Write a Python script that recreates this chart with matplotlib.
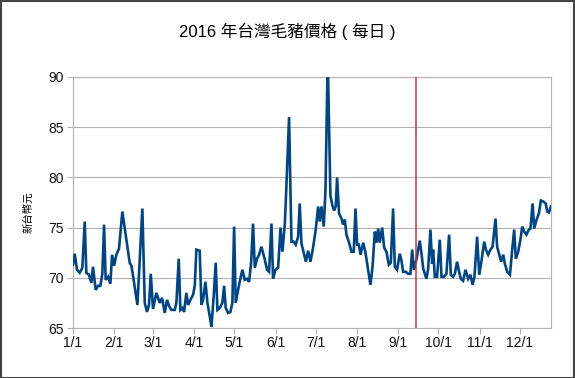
import matplotlib
matplotlib.use("Agg")
import matplotlib.pyplot as plt
import matplotlib.dates as mdates
from matplotlib.patches import Rectangle
from matplotlib.ticker import FuncFormatter
import pandas as pd

plt.rcParams['font.family'] = ['Liberation Sans', 'Noto Sans CJK TC', 'DejaVu Sans']

# days since 2016-01-01 and daily hog price (NT$)
day_offsets = [
    0, 1.3, 3, 5, 7, 8.8, 10, 12, 13.8, 15, 17, 18.8, 20.5, 22, 23.3, 24.5,
    26.3, 28, 29.3, 30.8, 32.5, 34.5, 37, 40, 42.5, 43.8, 45, 48.3, 52, 53.8,
    55.5, 57, 58.3, 60, 62.5, 63.8, 65, 66.8, 68.8, 70.5, 72, 73.8, 76.3,
    77.5, 79.3, 80.5, 82, 83.3, 85, 86.3, 88, 90, 91.3, 92.5, 95, 96.3, 97.5,
    99.3, 100.8, 102.5, 103.8, 105.5, 107, 108.3, 110, 112, 113.3, 114.5,
    116.3, 118, 119.5, 120.8, 122, 123.8, 125, 127, 128.8, 130.5, 132, 133.5,
    135, 136.3, 138, 139.5, 141.3, 143.8, 145.5, 147, 148.8, 150, 151.8,
    153.8, 155.6, 157, 158.8, 160, 162, 163.8, 165.5, 167, 168.8, 170, 171.3,
    173, 174.6, 176.3, 178, 180, 182, 183.8, 185, 186.3, 188, 189.3, 191,
    193, 194.5, 195.8, 197, 198, 199.5, 201.3, 202.5, 203.8, 205, 207, 208.8,
    210.5, 211.8, 213, 214.3, 215.6, 217.6, 219.3, 221.3, 223, 224.6, 226.3,
    227.6, 228.8, 230, 231.8, 233.3, 235, 236.8, 238.3, 240, 241.3, 243, 245,
    246.3, 247.5, 249.5, 251.3, 253, 254.3, 255.6, 257.6, 260, 261.3, 262.6,
    265, 266.3, 268, 269.3, 270, 271.3, 273, 275, 276.3, 278, 280, 282,
    283.3, 285, 286.3, 288, 289.5, 290.8, 292.5, 294.3, 296.3, 298, 299.6,
    301, 303, 304.6, 306.3, 308.3, 309.6, 311.3, 313, 314.6, 316.8, 318,
    319.6, 321, 322.6, 323.8, 325.6, 327.6, 329.3, 330.8, 332, 333.8, 335.6,
    336.8, 338.3, 340, 341.8, 343, 344.6, 345.8, 347.6, 349.3, 350.8, 352.6,
    354.4, 355.6, 356.8, 358.3,
]
prices = [
    71.3, 72.4, 70.8, 70.5, 71.0, 75.6, 70.5, 70.3, 69.5, 71.1, 68.8, 69.2,
    69.2, 70.4, 75.3, 69.8, 70.1, 69.4, 72.3, 71.2, 72.3, 72.9, 76.6, 73.8,
    71.5, 71.2, 70.2, 67.3, 76.9, 67.5, 66.6, 67.3, 70.4, 66.9, 68.5, 68.0,
    67.5, 68.0, 66.5, 67.8, 67.2, 66.8, 66.8, 67.5, 71.9, 66.8, 67.0, 66.6,
    68.5, 67.3, 67.8, 68.3, 69.2, 72.8, 72.7, 67.3, 67.8, 69.6, 67.5, 66.2,
    65.1, 68.2, 71.5, 66.8, 67.0, 67.5, 69.2, 67.0, 66.5, 66.6, 67.5, 75.1,
    67.5, 68.8, 69.6, 70.8, 69.8, 69.9, 69.6, 71.4, 75.4, 71.0, 71.9, 72.3,
    73.1, 71.8, 70.8, 70.6, 75.4, 69.9, 70.8, 71.0, 75.0, 72.6, 75.3, 79.1,
    86.0, 73.6, 73.6, 73.3, 74.1, 77.4, 73.4, 72.5, 71.6, 72.7, 71.6, 73.0,
    74.8, 77.1, 75.6, 77.1, 75.1, 78.7, 92.0, 78.2, 77.2, 76.7, 77.1, 80.0,
    76.4, 75.9, 75.3, 75.8, 74.3, 73.5, 72.6, 72.6, 76.9, 73.3, 73.3, 72.3,
    73.5, 72.5, 70.8, 69.3, 71.1, 74.6, 73.5, 74.9, 73.5, 75.0, 73.0, 72.6,
    71.3, 71.5, 76.9, 71.1, 70.8, 72.4, 71.7, 70.6, 70.6, 70.4, 70.4, 72.8,
    70.8, 71.9, 73.7, 72.4, 70.9, 69.9, 70.9, 74.8, 71.4, 72.8, 70.1, 70.1,
    73.8, 70.1, 70.1, 70.4, 74.3, 70.3, 70.1, 70.4, 71.6, 70.6, 69.9, 69.7,
    70.8, 69.9, 70.3, 69.3, 70.1, 74.1, 70.3, 71.7, 73.6, 72.8, 72.3, 72.8,
    73.1, 75.9, 73.1, 72.3, 71.6, 72.3, 71.4, 70.6, 70.3, 72.8, 74.8, 71.9,
    72.6, 73.9, 75.1, 74.6, 74.3, 74.8, 74.9, 77.4, 74.9, 75.8, 76.4, 77.7,
    77.6, 77.4, 76.6, 76.5, 77.1,
]
marker_date = "2016-09-14"
y_ticks = [65, 70, 75, 80, 85, 90]

start = pd.Timestamp("2016-01-01")
dates = start + pd.to_timedelta(day_offsets, unit="D")

fig = plt.figure(figsize=(5.75, 3.78), dpi=100)
ax = fig.add_axes([73 / 575, 1 - 328 / 378, 478 / 575, 251 / 378])

ax.plot(dates, prices, color="#004586", lw=1.9, solid_joinstyle="miter",
        zorder=3)
ax.axvline(pd.Timestamp(marker_date), color="#c8363a", lw=1.1, zorder=4)

ax.set_ylim(65, 90)
ax.set_yticks(y_ticks)
ax.set_xlim(start, start + pd.Timedelta(days=358.4))
ax.xaxis.set_major_locator(mdates.MonthLocator())
ax.xaxis.set_major_formatter(
    FuncFormatter(lambda v, p: "%d/%d" % (mdates.num2date(v).month,
                                          mdates.num2date(v).day)))

ax.grid(axis="y", color="#b3b3b3", lw=0.8)
ax.set_axisbelow(True)
for s in ax.spines.values():
    s.set_color("#b3b3b3")
    s.set_linewidth(0.8)
ax.tick_params(axis="both", colors="#b3b3b3", length=4, width=0.8,
               labelcolor="#111111", labelsize=10)
ax.tick_params(axis="y", pad=2.5)
ax.tick_params(axis="x", pad=2)

fig.text(0.5, 1 - 31 / 378, "2016 年台灣毛豬價格 ( 每日 )", ha="center",
         va="center", fontsize=12)
fig.text(28 / 575, 1 - 212 / 378, "新台幣元", rotation=90, ha="center",
         va="center", fontsize=7.5)

fig.patches.append(Rectangle((0.001, 0.001), 0.997, 0.997,
                             transform=fig.transFigure, fill=False,
                             edgecolor="#444444", lw=1.5))

fig.savefig("out.png", dpi=100)
